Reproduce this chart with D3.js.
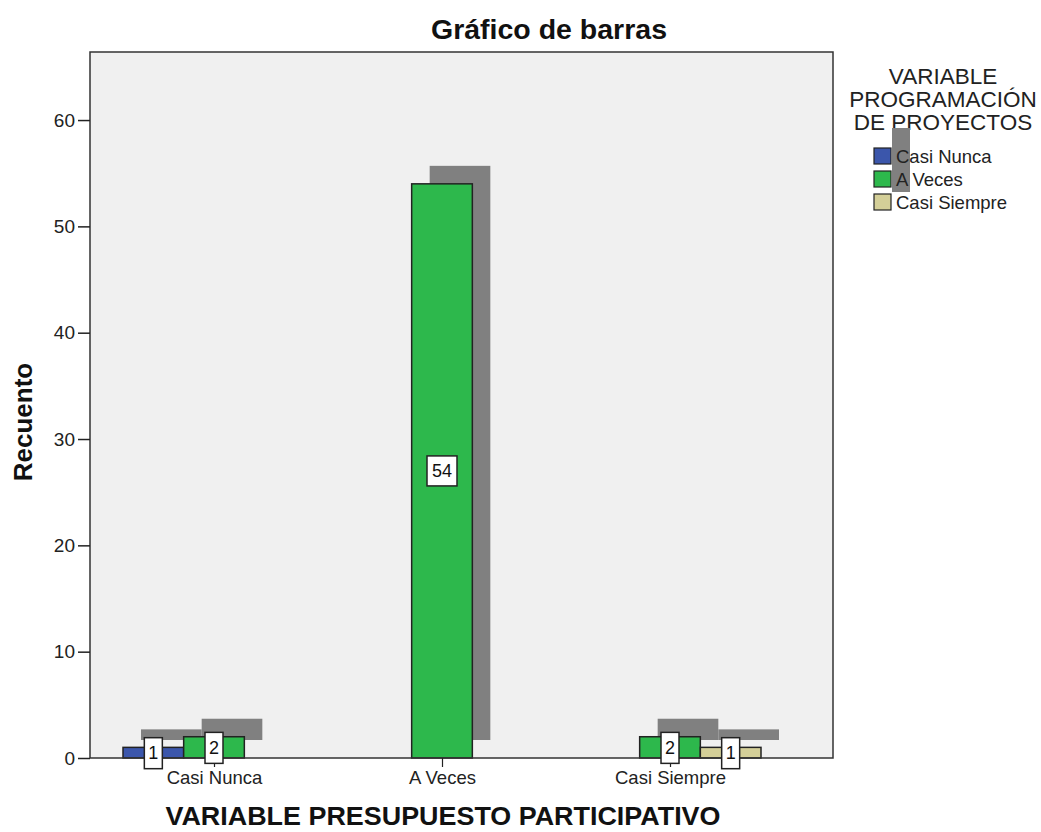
<!DOCTYPE html>
<html><head><meta charset="utf-8">
<script src="https://cdn.jsdelivr.net/npm/d3@7"></script>
<style>body{margin:0;background:#fff;} text{font-family:"Liberation Sans",Arial,sans-serif;}</style>
</head><body>
<svg id="c" width="1041" height="832"></svg>
<script>
const categories = ["Casi Nunca", "A Veces", "Casi Siempre"];
const series = ["Casi Nunca", "A Veces", "Casi Siempre"];
const colors = ["#3b56ab", "#2db84c", "#d4cf98"];
// counts[category][series]; null = no bar
const serCasiNunca = [1, null, null];
const serAVeces = [2, 54, 2];
const serCasiSiempre = [null, null, 1];
const yTicks = [0, 10, 20, 30, 40, 50, 60];

const data = [];
categories.forEach((c, i) => {
  [serCasiNunca, serAVeces, serCasiSiempre].forEach((arr, j) => {
    if (arr[i] != null) data.push({cat: c, ser: series[j], val: arr[i], color: colors[j]});
  });
});

const svg = d3.select("#c");
const L = 90, R = 833, T = 52, B = 758;
const y = d3.scaleLinear().domain([0, 66.4]).range([B, T]);
const x = d3.scalePoint().domain(categories).range([214, 670]);
const xi = d3.scaleBand().domain(series).range([-91, 91]);
const sdx = 18, sdy = -18;
const FF = "'Liberation Sans',Arial,sans-serif";

svg.append("rect").attr("x", L).attr("y", T).attr("width", R - L).attr("height", B - T)
  .attr("fill", "#f0f0f0");

// shadows
svg.append("g").selectAll("rect").data(data).join("rect")
  .attr("x", d => x(d.cat) + xi(d.ser) + sdx)
  .attr("y", d => y(d.val) + sdy)
  .attr("width", xi.bandwidth())
  .attr("height", d => y(0) - y(d.val))
  .attr("fill", "#808080");

// bars
svg.append("g").selectAll("rect").data(data).join("rect")
  .attr("x", d => x(d.cat) + xi(d.ser))
  .attr("y", d => y(d.val))
  .attr("width", xi.bandwidth())
  .attr("height", d => y(0) - y(d.val))
  .attr("fill", d => d.color)
  .attr("stroke", "#222").attr("stroke-width", 1.5);

// frame
svg.append("rect").attr("x", L).attr("y", T).attr("width", R - L).attr("height", B - T)
  .attr("fill", "none").attr("stroke", "#333").attr("stroke-width", 1.5);

// y axis
const ya = svg.append("g").attr("transform", `translate(${L},0)`)
  .call(d3.axisLeft(y).tickValues(yTicks).tickSize(12).tickPadding(3));
ya.select(".domain").remove();
ya.selectAll("line").attr("stroke", "#222").attr("stroke-width", 1.5);
ya.selectAll("text").attr("font-size", 19).attr("fill", "#222").style("font-family", FF);

// x axis
const xa = svg.append("g").attr("transform", `translate(0,${B})`)
  .call(d3.axisBottom(x).tickSize(9).tickPadding(4));
xa.select(".domain").remove();
xa.selectAll("line").attr("stroke", "#222").attr("stroke-width", 1.2);
xa.selectAll("text").attr("font-size", 18.5).attr("fill", "#222").style("font-family", FF);

// value labels
const lg = svg.append("g").selectAll("g").data(data).join("g")
  .attr("transform", d => `translate(${x(d.cat) + xi(d.ser) + xi.bandwidth() / 2},${(y(0) + y(d.val)) / 2})`);
lg.append("rect")
  .attr("x", d => d.val >= 10 ? -15 : -9)
  .attr("y", -15)
  .attr("width", d => d.val >= 10 ? 30 : 18)
  .attr("height", d => d.val >= 10 ? 30 : 31)
  .attr("fill", "#fff").attr("stroke", "#222").attr("stroke-width", 1.5);
lg.append("text").attr("text-anchor", "middle").attr("dy", "0.36em")
  .attr("font-size", 18).attr("fill", "#111").text(d => d.val);

// title
svg.append("text").attr("x", 549).attr("y", 39).attr("text-anchor", "middle")
  .attr("font-size", 28.5).attr("font-weight", "bold").attr("fill", "#111").text("Gráfico de barras");
svg.append("text").attr("transform", "translate(32,422) rotate(-90)").attr("text-anchor", "middle")
  .attr("font-size", 26).attr("font-weight", "bold").attr("fill", "#111").text("Recuento");
svg.append("text").attr("x", 443).attr("y", 825).attr("text-anchor", "middle")
  .attr("font-size", 26).attr("font-weight", "bold").attr("fill", "#111")
  .attr("textLength", 555).attr("lengthAdjust", "spacingAndGlyphs")
  .text("VARIABLE PRESUPUESTO PARTICIPATIVO");

// legend
const legTitle = ["VARIABLE", "PROGRAMACIÓN", "DE PROYECTOS"];
svg.append("g").selectAll("text").data(legTitle).join("text")
  .attr("x", 943).attr("y", (d, i) => 84 + i * 23).attr("text-anchor", "middle")
  .attr("font-size", 22.5).attr("fill", "#222").text(d => d);
svg.append("rect").attr("x", 892).attr("y", 128).attr("width", 18).attr("height", 64).attr("fill", "#808080");
const li = svg.append("g").selectAll("g").data(series).join("g")
  .attr("transform", (d, i) => `translate(874,${148 + i * 23})`);
li.append("rect").attr("width", 17).attr("height", 16).attr("fill", (d, i) => colors[i])
  .attr("stroke", "#222").attr("stroke-width", 1.2);
li.append("text").attr("x", 22).attr("y", 15).attr("font-size", 18.5).attr("fill", "#222").text(d => d);
</script>
</body></html>
